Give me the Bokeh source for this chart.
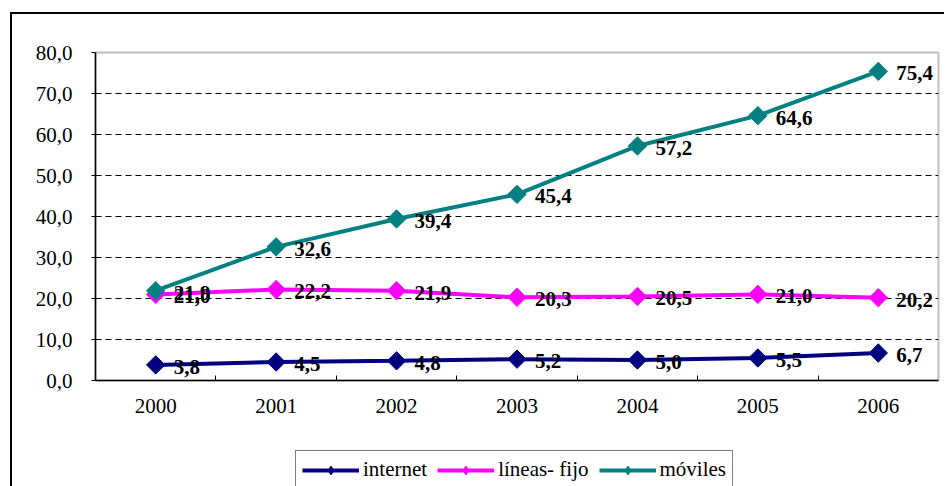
import numpy as np
from bokeh.plotting import figure
from bokeh.layouts import column
from bokeh.models import Range1d, FixedTicker, Legend, LegendItem, InlineStyleSheet
from bokeh.core.properties import value
from bokeh.embed import file_html
from bokeh.resources import INLINE

# ---- data ----
years = ["2000", "2001", "2002", "2003", "2004", "2005", "2006"]
internet = [3.8, 4.5, 4.8, 5.2, 5.0, 5.5, 6.7]
lineas_fijo = [21.0, 22.2, 21.9, 20.3, 20.5, 21.0, 20.2]
moviles = [21.9, 32.6, 39.4, 45.4, 57.2, 64.6, 75.4]
y_ticks = [0, 10, 20, 30, 40, 50, 60, 70, 80]

series = [
    ("internet", internet, "#000080"),
    ("líneas- fijo", lineas_fijo, "#FF00FF"),
    ("móviles", moviles, "#008080"),
]

FONT_NAME = "'Liberation Serif', 'Times New Roman', 'DejaVu Serif', serif"
FONT = value(FONT_NAME)

def fmt(v):
    return f"{v:.1f}".replace(".", ",")

xs = list(np.arange(len(years)) + 0.5)

# ---- main chart ----
p = figure(width=934, height=424,
           x_range=Range1d(0, len(years)), y_range=Range1d(0, 80),
           toolbar_location=None, output_backend="svg",
           min_border_left=83, min_border_right=8, min_border_top=38, min_border_bottom=58)
p.margin = (14, 0, 0, 12)
p.title = None
p.background_fill_color = "white"
p.border_fill_color = "white"
p.outline_line_color = "#c0c0c0"
p.outline_line_width = 2
p.stylesheets = [InlineStyleSheet(css=":host { box-shadow: -2px -2px 0 0 black, -2px 0 0 0 black; }")]

# grid
p.xgrid.visible = False
p.ygrid.ticker = FixedTicker(ticks=y_ticks[1:-1])
p.ygrid.grid_line_color = "black"
p.ygrid.grid_line_dash = "6 4"
p.ygrid.grid_line_width = 1

# y axis
p.yaxis.ticker = FixedTicker(ticks=y_ticks)
p.yaxis.major_label_overrides = {t: fmt(t) for t in y_ticks}
p.yaxis.major_label_text_font = FONT_NAME
p.yaxis.major_label_text_font_size = "21px"
p.yaxis.major_label_text_color = "black"
p.yaxis.axis_line_color = "black"
p.yaxis.axis_line_width = 1.5
p.yaxis.major_tick_out = 4
p.yaxis.major_tick_in = 0
p.yaxis.major_tick_line_color = "black"
p.yaxis.minor_tick_line_color = None
p.yaxis.major_label_standoff = 19

# x axis
p.xaxis.ticker = FixedTicker(ticks=xs, minor_ticks=list(range(1, len(years))))
p.xaxis.major_label_overrides = {float(x): y for x, y in zip(xs, years)}
p.xaxis.major_label_text_font = FONT_NAME
p.xaxis.major_label_text_font_size = "21px"
p.xaxis.major_label_text_color = "black"
p.xaxis.axis_line_color = "black"
p.xaxis.axis_line_width = 1.5
p.xaxis.major_tick_in = 0
p.xaxis.major_tick_out = 0
p.xaxis.minor_tick_in = 5
p.xaxis.minor_tick_out = 0
p.xaxis.minor_tick_line_color = "black"
p.xaxis.minor_tick_line_width = 1
p.xaxis.major_label_standoff = 18

for name, vals, color in series:
    p.line(xs, vals, line_color=color, line_width=4)
    p.scatter(xs, vals, marker="square", angle=np.pi / 4, size=13,
              fill_color=color, line_color=color, line_width=1)

for name, vals, color in series:
    p.text(xs, vals, text=[fmt(v) for v in vals], x_offset=18, y_offset=2,
           text_font=FONT, text_font_style="bold", text_font_size="21px",
           text_color="black", text_baseline="middle", text_align="left")

# ---- legend strip (below the chart, inside the same outer border) ----
lf = figure(width=934, height=48, x_range=Range1d(0, 1), y_range=Range1d(0, 1),
            toolbar_location=None, output_backend="svg",
            x_axis_location=None, y_axis_location=None,
            min_border_left=0, min_border_right=0, min_border_top=0, min_border_bottom=0)
lf.margin = (0, 0, 0, 12)
lf.title = None
lf.grid.visible = False
lf.outline_line_color = None
lf.background_fill_color = "white"
lf.border_fill_color = "white"
lf.stylesheets = [InlineStyleSheet(css=":host { box-shadow: -2px 0 0 0 black; }")]

items = []
for name, vals, color in series:
    # same series data; it falls outside this strip's ranges, so only the legend swatch shows
    ln = lf.line(xs, vals, line_color=color, line_width=4)
    mk = lf.scatter(xs, vals, marker="diamond", size=16,
                    fill_color=color, line_color=color, line_width=1)
    items.append(LegendItem(label=name, renderers=[ln, mk]))

legend = Legend(items=items, orientation="horizontal", location=(200, -3),
                label_text_font=FONT_NAME, label_text_font_size="21px",
                label_text_color="black",
                glyph_width=57, glyph_height=22, label_height=22, label_standoff=4,
                spacing=10, padding=6, margin=0,
                border_line_color="black", border_line_width=1,
                background_fill_color="white", background_fill_alpha=1)
lf.add_layout(legend)

layout = column(p, lf, spacing=0)

open("out.html", "w").write(file_html(layout, INLINE))
